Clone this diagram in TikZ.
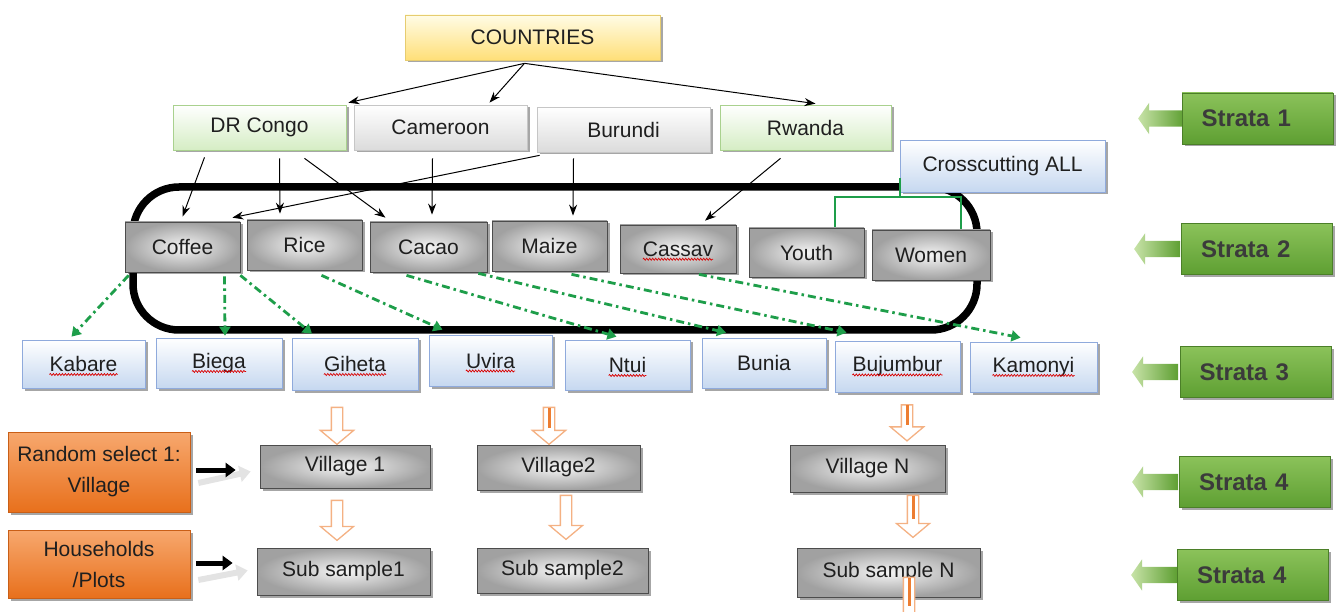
\documentclass[tikz,border=0pt]{standalone}
\usepackage{fontspec}
\setmainfont{Liberation Sans}
\usetikzlibrary{shapes.arrows,shadows,arrows.meta,decorations.pathmorphing,calc}
\definecolor{grnline}{HTML}{1E9E4A}
\definecolor{peach}{HTML}{F4B183}
\definecolor{orng}{HTML}{ED7D31}
\definecolor{sgA}{HTML}{8BC25A}
\definecolor{sgB}{HTML}{5E9F32}
\definecolor{stext}{HTML}{3B3B3B}
\definecolor{ylA}{HTML}{FFFCE6}
\definecolor{ylB}{HTML}{FFDF78}
\definecolor{ylD}{HTML}{E6CC70}
\definecolor{glB}{HTML}{D5EDC4}
\definecolor{glD}{HTML}{A9D18E}
\definecolor{blB}{HTML}{C6D8F0}
\definecolor{blD}{HTML}{8FAADC}
\definecolor{orA}{HTML}{F7A86E}
\definecolor{orB}{HTML}{E8701C}
\definecolor{orD}{HTML}{C95F17}
\definecolor{arA}{HTML}{C8E3A8}
\begin{document}
\begin{tikzpicture}[x=1pt,y=-1pt,
  font=\fontsize{21}{25}\selectfont,
  box/.style={rectangle, line width=0.7pt, text=black!88,
    drop shadow={shadow xshift=2.5pt, shadow yshift=-2.5pt, opacity=0.35, fill=black}},
  yelbox/.style={box, top color=ylA, bottom color=ylB, draw=ylD},
  grnbox/.style={box, top color=white, bottom color=glB, draw=glD},
  ltbox/.style={box, top color=white, bottom color=gray!28, draw=gray!45},
  blubox/.style={box, top color=white, bottom color=blB, draw=blD},
  grybox/.style={box, minimum width=115pt, minimum height=50pt, inner color=gray!8, outer color=gray!74, draw=gray!60!black},
  row3/.style={blubox, minimum width=124pt, minimum height=50pt},
  row1/.style={minimum width=173pt, minimum height=45pt},
  orbox/.style={box, top color=orA, bottom color=orB, draw=orD, minimum width=182pt, align=center,
    font=\fontsize{21}{31}\selectfont},
  strbox/.style={rectangle, top color=sgA, bottom color=sgB, draw=sgB!80!black, line width=0.5pt,
    minimum height=51pt, text width=112pt, inner xsep=19.5pt, align=left, text=stext,
    font=\fontsize{24}{28}\selectfont\bfseries,
    drop shadow={shadow xshift=2.5pt, shadow yshift=-2.5pt, opacity=0.35, fill=black}},
  strarr/.style={single arrow, shape border rotate=180, minimum height=46pt, minimum width=31pt,
    inner sep=8pt, single arrow head extend=7.5pt, single arrow tip angle=110,
    left color=arA, right color=sgB, draw=none},
  darr/.style={single arrow, shape border rotate=270, draw=peach, fill=white, line width=1.3pt,
    minimum height=#1, minimum width=33pt, inner sep=5pt, single arrow head extend=11pt,
    single arrow tip angle=100},
  txt/.style={inner sep=0pt, text=black!88},
  wavy/.style={red!85!black, line width=0.7pt, decorate, decoration={snake, amplitude=1pt, segment length=3pt}},
  blk/.style={-{Stealth[length=11pt,width=8pt]}, line width=1pt, black},
  gdd/.style={draw=grnline, line width=2.8pt, dash pattern=on 8pt off 4pt on 2.5pt off 4pt,
    -{Triangle[length=9pt,width=11pt]}},
  stripe/.style={orng, line width=3pt}
]
\useasboundingbox (0,0) rectangle (1339,612);

% ---------- big rounded track ----------
\draw[line width=7.5pt, rounded corners=46pt] (133,187) rectangle (977,330);

% ---------- top ----------
\node[yelbox, minimum width=255pt, minimum height=45pt] (countries) at (532.5,37.5) {COUNTRIES};
\node[grnbox, row1] (drc) at (259.5,127.5) {DR Congo};
\node[ltbox, row1] (cam) at (440.5,127.5) {Cameroon};
\node[ltbox, row1] (bur) at (623.5,129.5) {Burundi};
\node[grnbox, row1, minimum width=171pt] (rwa) at (805.5,127.5) {Rwanda};
\node[blubox, minimum width=205pt, minimum height=52pt] (cross) at (1002.5,166) {Crosscutting ALL};

% ---------- crosscutting bracket ----------
\coordinate (brk) at ([xshift=-103pt, yshift=-12pt]cross.center);
\draw[grnline, line width=2pt] (brk) -- ++(0,19);
\draw[grnline, line width=2pt] (835,229) -- (835,197) -- (961,197) -- (961,231);

% ---------- row 2 ----------
\node[grybox] (cof) at (182.5,247) {Coffee};
\node[grybox] (rice) at (304.5,245) {Rice};
\node[grybox, minimum width=117pt] (cac) at (428.5,247) {Cacao};
\node[grybox] (mai) at (549.5,246) {Maize};
\node[grybox, minimum width=116pt, minimum height=48pt] (cas) at (678,249) {};
\node[txt] (cast) at (cas.center) {Cassav};
\draw[wavy] ([yshift=-3pt]cast.base west) -- ([yshift=-3pt]cast.base east);
\node[grybox, minimum height=49pt] (you) at (806.5,252.5) {Youth};
\node[grybox, minimum width=118pt] (wom) at (931,255) {Women};

% ---------- black connectors ----------
\draw[blk] ([xshift=-8pt,yshift=-3pt]countries.south) -- ([xshift=2pt,yshift=2pt]drc.north east);
\draw[blk] ([xshift=-8pt,yshift=-3pt]countries.south) -- ([xshift=49pt,yshift=2pt]cam.north);
\draw[blk] ([xshift=-8pt,yshift=-3pt]countries.south) -- ([xshift=10pt,yshift=1pt]rwa.north);
\draw[blk] ([xshift=-55pt,yshift=-7pt]drc.south) -- ([xshift=0pt,yshift=5pt]cof.north);
\draw[blk] ([xshift=20pt,yshift=-8pt]drc.south) -- ([xshift=-24.5pt,yshift=6pt]rice.north);
\draw[blk] ([xshift=45pt,yshift=-8pt]drc.south) -- ([xshift=-43pt,yshift=4pt]cac.north);
\draw[blk] ([xshift=-8pt,yshift=-8pt]cam.south) -- ([xshift=3.5pt,yshift=7pt]cac.north);
\draw[blk] ([xshift=3pt,yshift=-3pt]bur.south west) -- ([xshift=-8pt,yshift=4pt]cof.north east);
\draw[blk] ([xshift=-50pt,yshift=-6pt]bur.south) -- ([xshift=23.5pt,yshift=5pt]mai.north);
\draw[blk] ([xshift=-25pt,yshift=-8pt]rwa.south) -- ([xshift=27pt,yshift=4pt]cas.north);

% ---------- row 3 ----------
\node[row3, minimum width=123pt, minimum height=48pt] (kab) at (83.5,364) {};
\node[txt] (kabt) at (kab.center) {Kabare};
\node[row3, minimum width=126pt] (bie) at (219,363) {};
\node[txt] (biet) at (bie.center) {Biega};
\node[row3, minimum width=126pt, minimum height=52pt] (gih) at (355,364) {};
\node[txt] (giht) at (gih.center) {Giheta};
\node[row3, minimum width=123pt, minimum height=51pt] (uvi) at (490.5,360.5) {};
\node[txt] (uvit) at (uvi.center) {Uvira};
\node[row3, minimum width=125pt] (ntu) at (627.5,365) {};
\node[txt] (ntut) at (ntu.center) {Ntui};
\node[row3] (bun) at (764,363) {Bunia};
\node[row3, minimum width=125pt, minimum height=51pt] (buj) at (897.5,366.5) {};
\node[txt] (bujt) at (buj.center) {Bujumbur};
\node[row3, minimum width=127pt] (kam) at (1033.5,367) {};
\node[txt] (kamt) at (kam.center) {Kamonyi};
\foreach \t in {kabt,biet,giht,uvit,ntut,bujt,kamt}
  \draw[wavy] ([yshift=-3pt]\t.base west) -- ([yshift=-3pt]\t.base east);

% ---------- green dash-dot connectors ----------
\draw[gdd] ([xshift=4pt,yshift=-3pt]cof.south west) -- ([xshift=-12pt,yshift=3pt]kab.north);
\draw[gdd] ([xshift=42pt,yshift=-4pt]cof.south) -- ([xshift=6pt,yshift=2pt]bie.north);
\draw[gdd] ([xshift=0pt,yshift=-3pt]cof.south east) -- ([xshift=-43pt,yshift=4pt]gih.north);
\draw[gdd] ([xshift=17pt,yshift=-5pt]rice.south) -- ([xshift=-48pt,yshift=5pt]uvi.north);
\draw[gdd] ([xshift=-22pt,yshift=-3pt]cac.south) -- ([xshift=-11pt,yshift=3pt]ntu.north);
\draw[gdd] ([xshift=-9pt,yshift=-1pt]cac.south east) -- ([xshift=-38pt,yshift=5pt]bun.north);
\draw[gdd] ([xshift=22pt,yshift=-3pt]mai.south) -- ([xshift=-51pt,yshift=8pt]buj.north);
\draw[gdd] ([xshift=21pt,yshift=-1pt]cas.south) -- ([xshift=-13pt,yshift=4pt]kam.north);

% ---------- row 4/5 ----------
\node[orbox, minimum height=80pt] (rnd) at (99,472) {Random select 1:\\Village};
\node[orbox, minimum height=68pt] (hh) at (99,564) {Households\\/Plots};

\node[grybox, minimum width=170pt, minimum height=43pt] (v1) at (345,466.5) {Village 1};
\node[grybox, minimum width=163pt, minimum height=45pt] (v2) at (558.5,467.5) {Village2};
\node[grybox, minimum width=155pt, minimum height=47pt] (vn) at (867.5,468.5) {Village N};
\node[grybox, minimum width=173pt, minimum height=47pt] (s1) at (343.5,571.5) {Sub sample1};
\node[grybox, minimum width=171pt, minimum height=45pt] (s2) at (562.5,570.5) {Sub sample2};
\node[grybox, minimum width=183pt, minimum height=49pt] (sn) at (888.5,572.5) {Sub sample N};

% side arrows from orange boxes
\draw[gray!22, line width=6pt, -{Triangle[length=11pt,width=16pt]}] ([xshift=8pt,yshift=-11pt]rnd.east) -- ([xshift=-9pt,yshift=-5pt]v1.west);
\draw[line width=5pt, -{Triangle[length=10pt,width=14pt]}] ([xshift=6pt,yshift=2pt]rnd.east) -- ([xshift=-24pt,yshift=-3.5pt]v1.west);
\draw[gray!22, line width=6pt, -{Triangle[length=11pt,width=16pt]}] ([xshift=8pt,yshift=-16pt]hh.east) -- ([xshift=-9pt,yshift=1pt]s1.west);
\draw[line width=5pt, -{Triangle[length=10pt,width=14pt]}] ([xshift=6pt,yshift=1pt]hh.east) -- ([xshift=-24pt,yshift=8.5pt]s1.west);

% down block arrows
\node[darr=37pt] (aA) at (337,423.5) {};
\node[darr=40pt] (aB) at (337,518) {};
\node[darr=37pt] (aC) at (549,423.5) {};
\node[darr=44pt] (aD) at (566,515) {};
\node[darr=36pt] (aE) at (907,420.5) {};
\node[darr=42pt] (aF) at (913,514) {};
\node[darr=52pt] (aG) at (909,601) {};
\foreach \a in {aC,aE,aF,aG}
  \draw[stripe] ([yshift=-1pt]\a.tail) -- ($(\a.tail)!0.55!(\a.tip)$);

% ---------- strata labels ----------
\node[strarr] (sa1) at (1164,118.5) {};
\node[strbox, minimum width=151pt] (st1) at (1257.5,118.5) {Strata 1};
\node[strarr] (sa2) at (1160,249) {};
\node[strbox, minimum width=151pt] (st2) at (1257,249) {Strata 2};
\node[strarr] (sa3) at (1158,372) {};
\node[strbox, minimum width=151pt] (st3) at (1255.5,372) {Strata 3};
\node[strarr] (sa4) at (1158,482) {};
\node[strbox, minimum width=151pt] (st4) at (1255,482) {Strata 4};
\node[strarr] (sa5) at (1157,575) {};
\node[strbox, minimum width=151pt] (st5) at (1253,575) {Strata 4};
\end{tikzpicture}
\end{document}
